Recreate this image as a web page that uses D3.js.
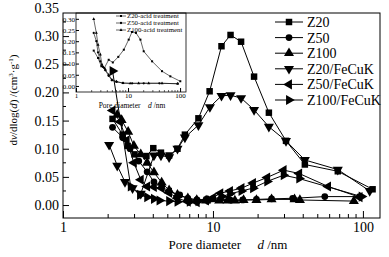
<!DOCTYPE html>
<html>
<head>
<meta charset="utf-8">
<script src="https://cdn.jsdelivr.net/npm/d3@7"></script>
<style>
body { margin: 0; background: #fff; }
text { font-family: "Liberation Serif", "Times New Roman", serif; fill: #000; white-space: pre; }
</style>
</head>
<body>
<div id="chart"></div>
<script>
// pore diameter (nm), dv/dlog(d)
var z20 = [[2.14,0.153],[2.5,0.125],[2.7,0.105],[3.0,0.09],[3.6,0.087],[4.0,0.101],[4.5,0.093],[5.1,0.088],[5.8,0.1],[6.5,0.125],[8.0,0.154],[9.5,0.202],[11.4,0.282],[13.1,0.302],[15.4,0.29],[18.8,0.228],[23.6,0.164],[30.7,0.114],[41,0.072],[68,0.06],[116,0.028]];
var z50 = [[2.14,0.138],[2.5,0.12],[2.8,0.1],[3.2,0.078],[3.64,0.059],[4.04,0.041],[4.55,0.033],[5.1,0.024],[6.0,0.018],[6.8,0.012],[7.8,0.009],[9,0.01],[10,0.011],[13,0.009],[15.8,0.009],[19.5,0.01],[24.6,0.011],[34,0.012],[55.7,0.015],[95,0.015]];
var z100 = [[2.3,0.16],[2.46,0.151],[2.72,0.13],[2.97,0.105],[3.3,0.09],[3.64,0.075],[4.04,0.058],[4.55,0.04],[5.1,0.026],[5.8,0.018],[6.8,0.012],[7.8,0.009],[9,0.008],[11,0.008],[12.5,0.008],[14,0.008],[16,0.009],[19.5,0.009],[24.6,0.01],[35,0.01],[38,0.009],[87,0.007]];
var z20fe = [[2.03,0.107],[2.3,0.07],[2.59,0.041],[2.91,0.03],[3.3,0.02],[4.04,0.088],[4.5,0.088],[5.1,0.085],[5.8,0.1],[6.5,0.12],[8.0,0.142],[9.54,0.174],[11.4,0.194],[13.1,0.195],[15.4,0.19],[18.8,0.169],[23.6,0.139],[30.7,0.114],[41,0.08],[68,0.063],[111,0.025]];
var z50fe = [[2.14,0.168],[2.4,0.148],[2.66,0.115],[2.97,0.075],[3.3,0.045],[3.64,0.033],[4.04,0.032],[4.55,0.03],[5.1,0.022],[5.8,0.012],[6.8,0.006],[7.8,0.005],[9,0.008],[10,0.013],[11.2,0.021],[13,0.025],[15.5,0.03],[18.5,0.039],[23,0.049],[29.6,0.062],[37.6,0.056],[58.6,0.033],[95,0.014]];
var z100fe = [[2.14,0.238],[2.83,0.033],[3.26,0.018],[3.64,0.014],[4.04,0.011],[4.4,0.008],[5.1,0.007],[5.8,0.006],[7.0,0.006],[8.0,0.007],[9.5,0.009],[11.5,0.015],[13,0.02],[15.5,0.025],[18.5,0.03],[23,0.042],[29.6,0.053],[37.6,0.047],[98,0.015]];

// inset: acid treated samples
var z20acid = [[2.19,0.158],[2.65,0.125],[3.07,0.088],[3.5,0.08],[4.25,0.117],[5.1,0.105],[6.5,0.13],[8.3,0.162],[10.3,0.207],[11.9,0.241],[14.2,0.237],[17.3,0.207],[20,0.155],[29,0.11],[45,0.066],[65,0.043],[101,0.021]];
var z50acid = [[2.19,0.237],[2.46,0.2],[2.65,0.15],[2.93,0.11],[3.3,0.085],[3.66,0.07],[4.25,0.045],[4.9,0.025],[6,0.018],[8,0.013],[12,0.012],[20,0.012],[40,0.012],[90,0.01]];
var z100acid = [[2.19,0.299],[2.46,0.237],[2.65,0.184],[2.93,0.14],[3.16,0.095],[3.66,0.073],[4.25,0.05],[4.9,0.028],[6,0.02],[8,0.013],[11,0.011],[16,0.012],[25,0.012],[45,0.012],[90,0.01]];

var names = ["Z20", "Z50", "Z100", "Z20/FeCuK", "Z50/FeCuK", "Z100/FeCuK"];
var insetNames = ["Z20-acid treatment", "Z50-acid treatment", "Z100-acid treatment"];
var yTicks = [0, 0.05, 0.10, 0.15, 0.20, 0.25, 0.30, 0.35];
var insetYTicks = [0, 0.05, 0.10, 0.15, 0.20, 0.25, 0.30];
var xTicks = [1, 10, 100];

var width = 389, height = 257;

var svg = d3.select("#chart").append("svg")
    .attr("width", width)
    .attr("height", height);

var x = d3.scaleLog().domain([1, 130]).range([63, 380]);
var y = d3.scaleLinear().domain([-0.023, 0.341]).range([218, 13]);

var series = [z20, z50, z100, z20fe, z50fe, z100fe];
var shapes = [
    {type: d3.symbolSquare, size: 42, rot: 0},
    {type: d3.symbolCircle, size: 36, rot: 0},
    {type: d3.symbolTriangle, size: 44, rot: 0},
    {type: d3.symbolTriangle, size: 44, rot: 180},
    {type: d3.symbolTriangle, size: 44, rot: -90},
    {type: d3.symbolTriangle, size: 44, rot: 90}
];

var minorX = [];
[1, 10, 100].forEach(b => { for (var k = 2; k <= 9; k++) if (b * k < 130) minorX.push(b * k); });
var minorY = [0.025, 0.075, 0.125, 0.175, 0.225, 0.275, 0.325];

// ---- inset ----
var xi = d3.scaleLog().domain([1, 130]).range([76, 186]);
var yi = d3.scaleLinear().domain([-0.027, 0.326]).range([92, 13]);

var inset = svg.append("g");
inset.append("rect")
    .attr("x", 76).attr("y", 13).attr("width", 110).attr("height", 79)
    .attr("fill", "none").attr("stroke", "#000").attr("stroke-width", 0.8);

inset.append("g")
    .attr("transform", "translate(76,0)")
    .call(d3.axisLeft(yi).tickValues(insetYTicks).tickSize(-3).tickPadding(1).tickFormat(d3.format(".2f")))
    .call(g => g.select(".domain").remove())
    .call(g => g.selectAll("text").style("font-size", "7px"));

inset.append("g")
    .attr("transform", "translate(0,92)")
    .call(d3.axisBottom(xi).tickValues(xTicks).tickSize(-4).tickPadding(1).tickFormat(d3.format("d")))
    .call(g => g.select(".domain").remove())
    .call(g => g.selectAll("text").style("font-size", "7px"));

inset.append("g")
    .selectAll("line")
    .data(minorX)
    .join("line")
    .attr("x1", d => xi(d)).attr("x2", d => xi(d))
    .attr("y1", 92).attr("y2", 90)
    .attr("stroke", "#000").attr("stroke-width", 0.6);

var xt = inset.append("text")
    .attr("x", 132).attr("y", 108)
    .attr("text-anchor", "middle")
    .style("font-size", "7.5px");
xt.append("tspan").text("Pore diameter    ");
xt.append("tspan").style("font-style", "italic").text("d");
xt.append("tspan").text(" /nm");

var insetSeries = [z20acid, z50acid, z100acid];
var insetShapes = [d3.symbolSquare, d3.symbolCircle, d3.symbolTriangle];
var lineI = d3.line().x(d => xi(d[0])).y(d => yi(d[1]));

insetSeries.forEach((s, i) => {
    inset.append("path")
        .datum(s)
        .attr("d", lineI)
        .attr("fill", "none")
        .attr("stroke", "#000")
        .attr("stroke-width", 0.6);
    inset.append("g")
        .selectAll("path")
        .data(s)
        .join("path")
        .attr("transform", d => `translate(${xi(d[0])},${yi(d[1])})`)
        .attr("d", d3.symbol().type(insetShapes[i]).size(4));
});

var insetLeg = inset.append("g")
    .selectAll("g")
    .data(insetNames)
    .join("g")
    .attr("transform", (d, i) => `translate(116,${16 + i * 7})`);
insetLeg.append("line")
    .attr("x1", 0).attr("x2", 10)
    .attr("stroke", "#000").attr("stroke-width", 0.6);
insetLeg.append("path")
    .attr("transform", "translate(5,0)")
    .attr("d", (d, i) => d3.symbol().type(insetShapes[i]).size(4)());
insetLeg.append("text")
    .attr("x", 11).attr("dy", "0.33em")
    .style("font-size", "6.8px")
    .text(d => d);

// ---- main axes ----
svg.append("rect")
    .attr("x", 63).attr("y", 13).attr("width", 317).attr("height", 205)
    .attr("fill", "none").attr("stroke", "#000").attr("stroke-width", 1);

svg.append("g")
    .attr("transform", "translate(63,0)")
    .call(d3.axisLeft(y).tickValues(yTicks).tickSize(-6).tickPadding(4).tickFormat(d3.format(".2f")))
    .call(g => g.select(".domain").remove())
    .call(g => g.selectAll(".tick").filter(d => d > 0.34).select("line").remove())
    .call(g => g.selectAll("text").style("font-size", "14px"));

svg.append("g")
    .selectAll("line")
    .data(minorY)
    .join("line")
    .attr("x1", 63).attr("x2", 66)
    .attr("y1", d => y(d)).attr("y2", d => y(d))
    .attr("stroke", "#000");

svg.append("g")
    .attr("transform", "translate(0,218)")
    .call(d3.axisBottom(x).tickValues(xTicks).tickSize(-7).tickPadding(4).tickFormat(d3.format("d")))
    .call(g => g.select(".domain").remove())
    .call(g => g.selectAll("text").style("font-size", "14px"));

svg.append("g")
    .selectAll("line")
    .data(minorX)
    .join("line")
    .attr("x1", d => x(d)).attr("x2", d => x(d))
    .attr("y1", 218).attr("y2", 214)
    .attr("stroke", "#000");

var xl = svg.append("text")
    .attr("x", 228).attr("y", 249)
    .attr("text-anchor", "middle")
    .style("font-size", "13px");
xl.append("tspan").text("Pore diameter     ");
xl.append("tspan").style("font-style", "italic").text("d");
xl.append("tspan").text(" /nm");

var yl = svg.append("text")
    .attr("transform", "translate(17,100) rotate(-90)")
    .attr("text-anchor", "middle")
    .style("font-size", "11px");
yl.append("tspan").text("d");
yl.append("tspan").style("font-style", "italic").text("v");
yl.append("tspan").text("/dlog(");
yl.append("tspan").style("font-style", "italic").text("d");
yl.append("tspan").text(") /(cm");
yl.append("tspan").attr("dy", -4).style("font-size", "7px").text("3");
yl.append("tspan").attr("dy", 4).text("·g");
yl.append("tspan").attr("dy", -4).style("font-size", "7px").text("-1");
yl.append("tspan").attr("dy", 4).text(")");

// ---- main series ----
var line = d3.line().x(d => x(d[0])).y(d => y(d[1]));

series.forEach((s, i) => {
    svg.append("path")
        .datum(s)
        .attr("d", line)
        .attr("fill", "none")
        .attr("stroke", "#000")
        .attr("stroke-width", 1);
    svg.append("g")
        .selectAll("path")
        .data(s)
        .join("path")
        .attr("transform", d => `translate(${x(d[0])},${y(d[1])}) rotate(${shapes[i].rot})`)
        .attr("d", d3.symbol().type(shapes[i].type).size(shapes[i].size));
});

// ---- legend ----
var leg = svg.append("g")
    .selectAll("g")
    .data(names)
    .join("g")
    .attr("transform", (d, i) => `translate(275,${22 + i * 15.6})`);
leg.append("line")
    .attr("x1", 0).attr("x2", 28)
    .attr("stroke", "#000");
leg.append("path")
    .attr("transform", (d, i) => `translate(14,0) rotate(${shapes[i].rot})`)
    .attr("d", (d, i) => d3.symbol().type(shapes[i].type).size(shapes[i].size)());
leg.append("text")
    .attr("x", 32).attr("dy", "0.35em")
    .style("font-size", "14px")
    .text(d => d);
</script>
</body>
</html>
